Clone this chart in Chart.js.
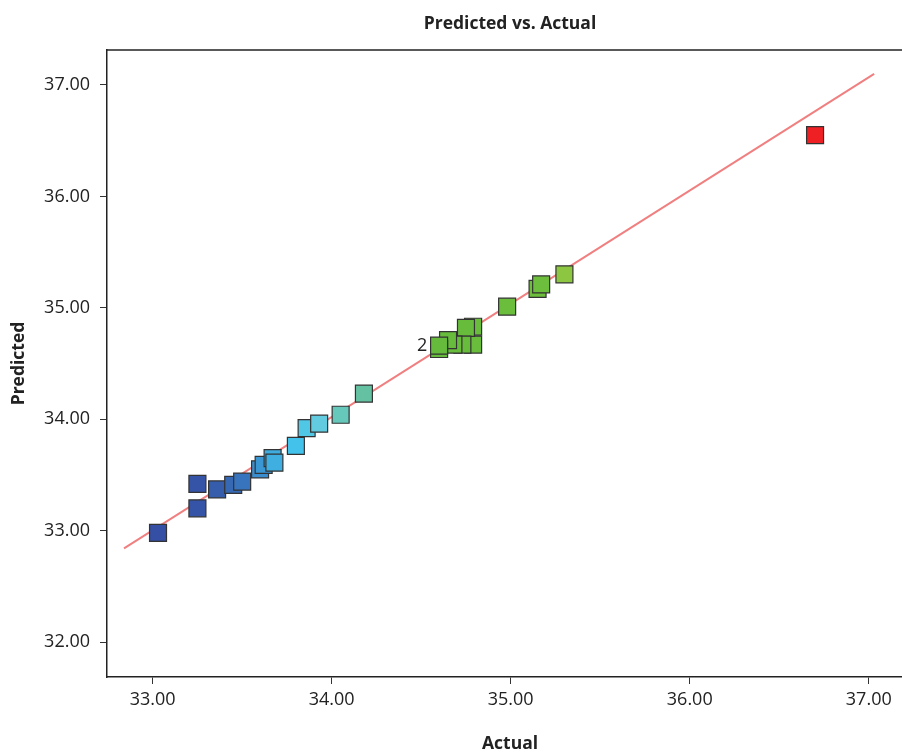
<!DOCTYPE html>
<html>
<head>
<meta charset="utf-8">
<script src="https://cdn.jsdelivr.net/npm/chart.js@4/dist/chart.umd.min.js"></script>
<style>
  html, body { margin: 0; padding: 0; background: #fff; overflow: hidden; }
  canvas { display: block; }
</style>
</head>
<body>
<canvas id="pva" width="920" height="755"></canvas>
<script>
/* values */
const actual    = [33.03, 33.25, 33.25, 33.36, 33.45, 33.50, 33.60, 33.62, 33.67, 33.68, 33.80, 33.86, 33.93, 34.05, 34.18,
                   34.79, 34.79, 34.75, 34.73, 34.68, 34.65, 34.60, 34.60, 34.98, 35.15, 35.17, 35.30, 36.70];
const predicted = [32.98, 33.20, 33.42, 33.37, 33.41, 33.44, 33.55, 33.59, 33.65, 33.61, 33.76, 33.92, 33.96, 34.04, 34.23,
                   34.83, 34.67, 34.82, 34.67, 34.67, 34.71, 34.63, 34.66, 35.01, 35.17, 35.21, 35.30, 36.55];
const fitLine   = [[32.84, 32.84], [37.03, 37.10]];
const xTicks    = [33, 34, 35, 36, 37];
const yTicks    = [32, 33, 34, 35, 36, 37];
const repeatPoint = { x: 34.60, y: 34.66, count: '2' };

const FONT = '"Open Sans", "DejaVu Sans", sans-serif';

/* colour ramp by actual value (blue -> cyan -> green -> red) */
const ramp = [
    [33.00, '#344ea2'], [33.30, '#3555a8'], [33.45, '#3668b3'], [33.50, '#3874bd'],
    [33.60, '#3a8ecf'], [33.67, '#3facdf'], [33.80, '#43c3ec'], [33.93, '#62cbe0'],
    [34.05, '#66c8ba'], [34.18, '#64c1a2'], [34.50, '#66bb3c'], [35.20, '#6dbe3c'],
    [35.30, '#8dc640'], [36.00, '#f0d020'], [36.70, '#ee2024'],
];
function hex(h) { return [1, 3, 5].map(i => parseInt(h.slice(i, i + 2), 16)); }
function rampColor(v) {
    if (v <= ramp[0][0]) return ramp[0][1];
    for (let i = 1; i < ramp.length; i++) {
        if (v <= ramp[i][0]) {
            const [v0, c0] = ramp[i - 1], [v1, c1] = ramp[i];
            const t = (v - v0) / (v1 - v0);
            const a = hex(c0), b = hex(c1);
            return 'rgb(' + a.map((c, k) => Math.round(c + (b[k] - c) * t)).join(',') + ')';
        }
    }
    return ramp[ramp.length - 1][1];
}

/* top edge of the plot box (left/bottom are the axis borders), title, "2" label */
const framePlugin = {
    id: 'frame',
    afterDraw(chart) {
        const { ctx, chartArea: a, scales } = chart;
        ctx.save();
        ctx.strokeStyle = '#222';
        ctx.lineWidth = 1.5;
        ctx.beginPath();
        ctx.moveTo(a.left, a.top);
        ctx.lineTo(a.right, a.top);
        ctx.stroke();

        ctx.fillStyle = '#222';
        ctx.textAlign = 'center';
        ctx.textBaseline = 'middle';
        ctx.font = '700 17.5px ' + FONT;
        ctx.fillText('Predicted vs. Actual', (a.left + a.right) / 2, 24);

        ctx.font = '18px ' + FONT;
        ctx.fillText(repeatPoint.count,
            scales.x.getPixelForValue(repeatPoint.x) - 17,
            scales.y.getPixelForValue(repeatPoint.y));
        ctx.restore();
    }
};

const axisCommon = {
    type: 'linear',
    grid: { drawOnChartArea: false, drawTicks: true, color: '#333', tickLength: 7 },
    border: { display: true, color: '#222', width: 1.5 },
};

new Chart(document.getElementById('pva'), {
    data: {
        datasets: [
            {
                type: 'scatter',
                data: actual.map((x, i) => ({ x: x, y: predicted[i] })),
                pointStyle: 'rect',
                pointRadius: 12,
                pointHoverRadius: 12,
                backgroundColor: actual.map(rampColor),
                borderColor: '#333',
                borderWidth: 1.2,
                order: 1,
            },
            {
                type: 'line',
                data: fitLine.map(p => ({ x: p[0], y: p[1] })),
                borderColor: '#f07f80',
                borderWidth: 2,
                pointRadius: 0,
                fill: false,
                order: 2,
            },
        ],
    },
    options: {
        responsive: false,
        animation: false,
        layout: { autoPadding: false, padding: { top: 50, right: 7, bottom: 0, left: 0 } },
        plugins: { legend: { display: false }, tooltip: { enabled: false } },
        scales: {
            x: {
                ...axisCommon,
                position: 'bottom',
                min: 32.745,
                max: 37.247,
                afterBuildTicks: s => { s.ticks = xTicks.map(v => ({ value: v })); },
                afterFit: s => { s.height = 78; s.paddingLeft = 0; s.paddingRight = 0; },
                ticks: {
                    color: '#222',
                    padding: 5,
                    font: { family: FONT, size: 18 },
                    callback: v => Number(v).toFixed(2),
                },
                title: {
                    display: true,
                    text: 'Actual',
                    color: '#222',
                    padding: { top: 0, bottom: 0 },
                    font: { family: FONT, size: 17.5, weight: 'bold' },
                },
            },
            y: {
                ...axisCommon,
                position: 'left',
                min: 31.686,
                max: 37.314,
                afterBuildTicks: s => { s.ticks = yTicks.map(v => ({ value: v })); },
                afterFit: s => { s.width = 107; s.paddingTop = 0; s.paddingBottom = 0; },
                ticks: {
                    color: '#222',
                    padding: 10,
                    font: { family: FONT, size: 18 },
                    callback: v => Number(v).toFixed(2),
                },
                title: {
                    display: true,
                    text: 'Predicted',
                    color: '#222',
                    padding: { top: 9, bottom: 0 },
                    font: { family: FONT, size: 17.5, weight: 'bold' },
                },
            },
        },
    },
    plugins: [framePlugin],
});
</script>
</body>
</html>
